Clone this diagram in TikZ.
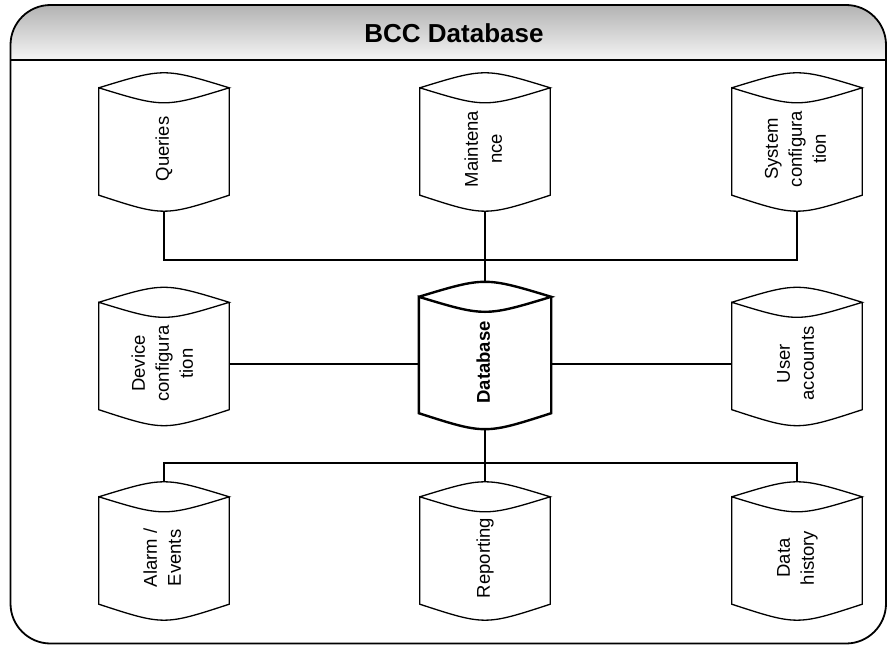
\documentclass[tikz,border=0pt]{standalone}
\usepackage{fontspec}
\setmainfont{Liberation Sans}
\usepackage{graphicx}
\usetikzlibrary{calc}
\newcommand\cyltxt[1]{\raisebox{0pt}[\dimexpr\height+14pt\relax][\depth]{\rotatebox{90}{\begin{tabular}{@{}c@{}}#1\end{tabular}}}}
\newcommand\cylout[2]{%
  \draw[#2] ($(#1.north west)+(0,15)$) .. controls ($(#1.north)+(0,-5)$) .. ($(#1.north east)+(0,15)$)
     .. controls ($(#1.north)+(0,35)$) .. ($(#1.north west)+(0,15)$)
     -- ($(#1.south west)+(0,-16)$) .. controls ($(#1.south)+(0,5.3)$) .. ($(#1.south east)+(0,-16)$)
     -- ($(#1.north east)+(0,15)$);}
\tikzset{
  cyl/.style={minimum width=130pt, minimum height=138pt, inner sep=0pt, font=\fontsize{18.5}{24}\selectfont},
  dbcyl/.style={cyl, minimum width=132pt, minimum height=147pt, font=\fontsize{18.5}{24}\selectfont\bfseries},
  outline/.style={line width=1.3pt, line join=miter},
  dboutline/.style={line width=2.4pt, line join=miter},
  conn/.style={line width=1.1pt},
  frame/.style={line width=1.8pt, rounded corners=40pt},
  titlefont/.style={font=\fontsize{26}{30}\selectfont\bfseries}
}
\begin{document}
\begin{tikzpicture}[x=1pt, y=-1pt]
\useasboundingbox (0,0) rectangle (888,645);
% header band
\begin{scope}
  \clip[rounded corners=40pt] (10.5,5) rectangle (886,643.5);
  \fill[top color=gray!60, bottom color=gray!8] (10.5,5) rectangle (886,60);
\end{scope}
\draw[line width=1.6pt] (10.5,60) -- (886,60);
\draw[frame] (10.5,5) rectangle (886,643.5);
\node[titlefont, anchor=base] (title) at (454,42) {BCC Database};

% cylinders
\node[cyl] (q) at (164,142) {\cyltxt{Queries}};
\node[cyl] (m) at (485,142) {\cyltxt{Maintena\\nce}};
\node[cyl] (s) at (797,142) {\cyltxt{System\\configura\\tion}};
\node[cyl] (dev) at (164,356.5) {\cyltxt{Device\\configura\\tion}};
\node[dbcyl] (db) at (485,355.5) {\cyltxt{Database}};
\node[cyl] (ua) at (797,356.5) {\cyltxt{User\\accounts}};
\node[cyl] (a) at (164,551) {\cyltxt{Alarm /\\Events}};
\node[cyl] (r) at (485,551) {\cyltxt{Reporting}};
\node[cyl] (h) at (797,551) {\cyltxt{Data\\history}};

\foreach \n in {q,m,s,dev,ua,a,r,h} {\cylout{\n}{outline}}
\cylout{db}{dboutline}

% connectors
\coordinate (tb) at (485,260);
\coordinate (bb) at (485,463);
\coordinate (ml) at (485,364);
\draw[conn] (q.south) |- (tb) -| (s.south);
\draw[conn] (m.south) -- (db.north);
\draw[conn] (dev.east |- ml) -- (db.west |- ml);
\draw[conn] (db.east |- ml) -- (ua.west |- ml);
\draw[conn] (a.north) |- (bb) -| (h.north);
\draw[conn] (db.south) -- (r.north);
\end{tikzpicture}
\end{document}
